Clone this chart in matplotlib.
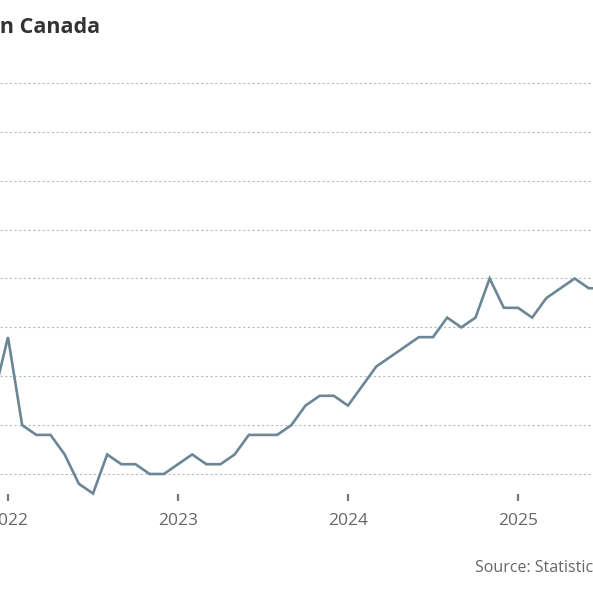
import numpy as np
import matplotlib.pyplot as plt

# monthly unemployment rate, Dec 2021 .. Jul 2025
months = ['2021-12',
          '2022-01', '2022-02', '2022-03', '2022-04', '2022-05', '2022-06',
          '2022-07', '2022-08', '2022-09', '2022-10', '2022-11', '2022-12',
          '2023-01', '2023-02', '2023-03', '2023-04', '2023-05', '2023-06',
          '2023-07', '2023-08', '2023-09', '2023-10', '2023-11', '2023-12',
          '2024-01', '2024-02', '2024-03', '2024-04', '2024-05', '2024-06',
          '2024-07', '2024-08', '2024-09', '2024-10', '2024-11', '2024-12',
          '2025-01', '2025-02', '2025-03', '2025-04', '2025-05', '2025-06',
          '2025-07']
rate = [5.8,
        6.4, 5.5, 5.4, 5.4, 5.2, 4.9,
        4.8, 5.2, 5.1, 5.1, 5.0, 5.0,
        5.1, 5.2, 5.1, 5.1, 5.2, 5.4,
        5.4, 5.4, 5.5, 5.7, 5.8, 5.8,
        5.7, 5.9, 6.1, 6.2, 6.3, 6.4,
        6.4, 6.6, 6.5, 6.6, 7.0, 6.7,
        6.7, 6.6, 6.8, 6.9, 7.0, 6.9,
        6.9]
grid_vals = np.arange(5.0, 9.01, 0.5)
year_ticks = [2022, 2023, 2024, 2025]

W, H = 593, 592
fig = plt.figure(figsize=(W / 100, H / 100), dpi=100)

# pixel layout
ax_top, ax_bot = 60, 494
px_per_unit = (474 - 83) / 4.0
px_per_month = 170 / 12.0
x0_px = 8  # Jan 2022

ax = fig.add_axes([0, 1 - ax_bot / H, 1, (ax_bot - ax_top) / H])

idx = np.arange(len(rate)) - 1  # month index, 0 = Jan 2022
ax.plot(idx, rate, color='#6b8695', lw=1.9, solid_joinstyle='miter',
        clip_on=False, zorder=3)

for g in grid_vals:
    ax.axhline(g, color='#aebdc6', lw=0.8, ls=(0, (2.0, 2.2)), zorder=1)

ax.set_xlim(-x0_px / px_per_month, (W - x0_px) / px_per_month)
ax.set_ylim(5.0 - (ax_bot - 474) / px_per_unit, 9.0 + (83 - ax_top) / px_per_unit)

ax.set_xticks([(y - 2022) * 12 for y in year_ticks])
ax.set_xticklabels([str(y) for y in year_ticks], fontsize=12.5, color='#666666',
                   family='Open Sans')
ax.tick_params(axis='x', length=5, width=1.6, color='#777777', pad=8.5)
ax.set_yticks([])
for s in ax.spines.values():
    s.set_visible(False)

fig.text(100 / W, 1 - 28 / H, 'Unemployment rate in Canada', ha='right', va='center',
         fontsize=15.5, fontweight='bold', color='#333333', family='Open Sans')
fig.text(475 / W, 1 - 568 / H, 'Source: Statistics Canada', ha='left', va='center',
         fontsize=11.5, color='#666666', family='Open Sans')

fig.savefig('out.png', dpi=100)
